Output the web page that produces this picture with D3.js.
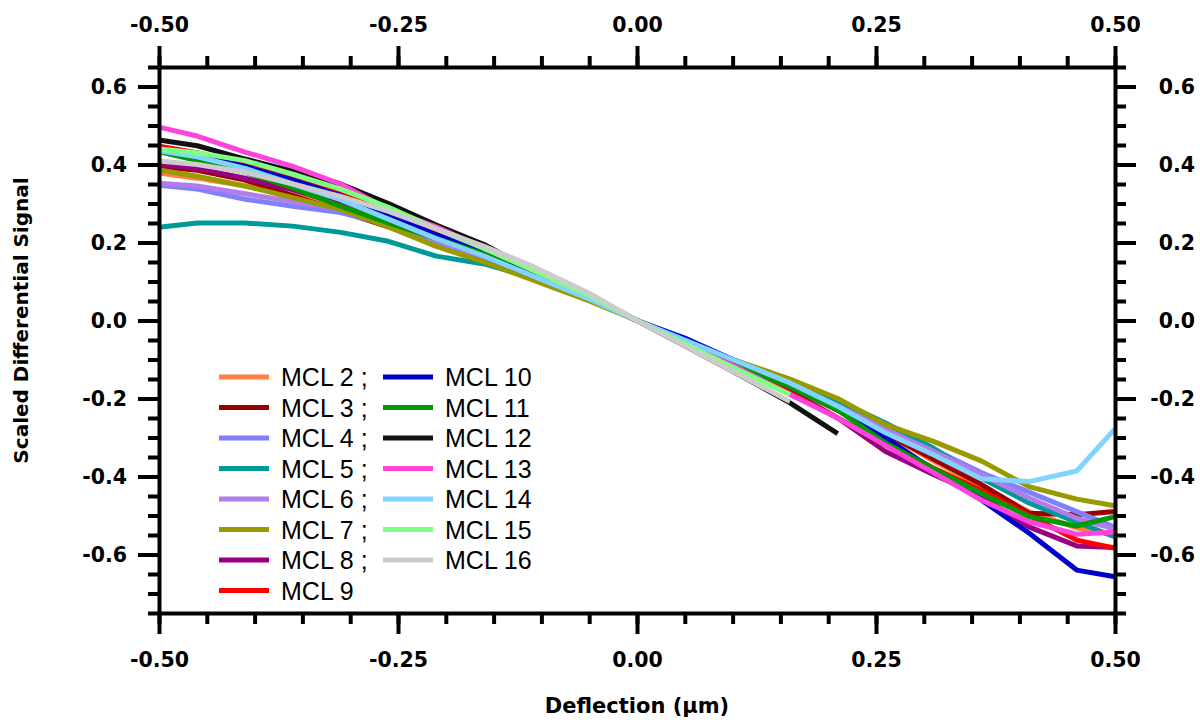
<!DOCTYPE html>
<html>
<head>
<meta charset="utf-8">
<script src="https://cdn.jsdelivr.net/npm/d3@7"></script>
<style>
  body { margin: 0; background: #fff; }
  text { font-family: Arial, "Liberation Sans", sans-serif; }
  .tick text { font-family: "DejaVu Sans", sans-serif; font-weight: bold; font-size: 20.5px; }
  .title { font-family: "DejaVu Sans", sans-serif; font-weight: bold; }
</style>
</head>
<body>
<div id="chart"></div>
<script>
const margin = { top: 67, right: 85, bottom: 109, left: 159 };
const W = 1200, H = 722;
const width = W - margin.left - margin.right;
const height = H - margin.top - margin.bottom;

// deflection positions (um)
const deflection = [-0.5, -0.46, -0.41, -0.36, -0.31, -0.26, -0.21, -0.16, -0.11, -0.05, 0,
                    0.05, 0.10, 0.16, 0.21, 0.26, 0.31, 0.36, 0.41, 0.46, 0.5];

const seriesNames = ["MCL 2", "MCL 3", "MCL 4", "MCL 5", "MCL 6", "MCL 7", "MCL 8", "MCL 9",
                     "MCL 10", "MCL 11", "MCL 12", "MCL 13", "MCL 14", "MCL 15", "MCL 16"];
const legendLabels = ["MCL 2 ;", "MCL 3 ;", "MCL 4 ;", "MCL 5 ;", "MCL 6 ;", "MCL 7 ;", "MCL 8 ;", "MCL 9",
                      "MCL 10", "MCL 11", "MCL 12", "MCL 13", "MCL 14", "MCL 15", "MCL 16"];
const colors = ["#ff8040", "#990000", "#8080ff", "#009999", "#b07ee6", "#999900", "#990080", "#ff0000",
                "#0000cc", "#009900", "#111111", "#ff44dd", "#80d4ff", "#80ff80", "#cccccc"];

// scaled differential signal per series
const mcl2  = [0.378, 0.365, 0.345, 0.322, 0.29, 0.245, 0.205, 0.16, 0.11, 0.055, 0, -0.055, -0.105, -0.165, -0.23, -0.29, -0.36, -0.425, -0.49, -0.532, -0.55];
const mcl3  = [0.395, 0.385, 0.36, 0.32, 0.28, 0.24, 0.2, 0.16, 0.11, 0.055, 0, -0.055, -0.105, -0.165, -0.23, -0.29, -0.355, -0.42, -0.494, -0.498, -0.49];
const mcl4  = [0.347, 0.337, 0.311, 0.293, 0.277, 0.245, 0.2, 0.16, 0.11, 0.055, 0, -0.05, -0.1, -0.16, -0.215, -0.275, -0.33, -0.39, -0.44, -0.49, -0.53];
const mcl5  = [0.239, 0.25, 0.25, 0.242, 0.226, 0.203, 0.165, 0.145, 0.11, 0.055, 0, -0.05, -0.1, -0.155, -0.205, -0.263, -0.327, -0.404, -0.468, -0.517, -0.555];
const mcl6  = [0.352, 0.345, 0.325, 0.305, 0.285, 0.25, 0.205, 0.16, 0.11, 0.055, 0, -0.05, -0.1, -0.16, -0.22, -0.28, -0.335, -0.395, -0.455, -0.507, -0.535];
const mcl7  = [0.386, 0.37, 0.345, 0.315, 0.285, 0.24, 0.19, 0.15, 0.105, 0.05, 0, -0.05, -0.1, -0.15, -0.2, -0.267, -0.31, -0.36, -0.426, -0.458, -0.475];
const mcl8  = [0.40, 0.39, 0.365, 0.335, 0.30, 0.26, 0.21, 0.165, 0.115, 0.06, 0, -0.06, -0.115, -0.18, -0.25, -0.336, -0.395, -0.45, -0.529, -0.578, -0.582];
const mcl9  = [0.447, 0.43, 0.40, 0.365, 0.33, 0.275, 0.225, 0.175, 0.12, 0.06, 0, -0.06, -0.115, -0.185, -0.25, -0.315, -0.378, -0.435, -0.50, -0.563, -0.584];
const mcl10 = [0.44, 0.425, 0.395, 0.36, 0.32, 0.27, 0.22, 0.175, 0.12, 0.06, 0, -0.045, -0.1, -0.17, -0.23, -0.30, -0.383, -0.46, -0.545, -0.64, -0.657];
const mcl11 = [0.433, 0.41, 0.38, 0.34, 0.293, 0.25, 0.21, 0.17, 0.115, 0.06, 0, -0.055, -0.11, -0.17, -0.23, -0.314, -0.38, -0.443, -0.503, -0.527, -0.503];
const mcl12 = [0.463, 0.448, 0.414, 0.383, 0.35, 0.3, 0.245, 0.195, 0.13, 0.065, 0, -0.065, -0.13, -0.211, -0.29, null, null, null, null, null, null];
const mcl13 = [0.496, 0.473, 0.432, 0.395, 0.35, 0.285, 0.24, 0.185, 0.13, 0.065, 0, -0.06, -0.115, -0.19, -0.25, -0.32, -0.39, -0.46, -0.516, -0.548, -0.542];
const mcl14 = [0.435, 0.42, 0.39, 0.35, 0.31, 0.26, 0.21, 0.165, 0.115, 0.055, 0, -0.05, -0.1, -0.16, -0.22, -0.288, -0.344, -0.406, -0.413, -0.386, -0.278];
const mcl15 = [0.44, 0.43, 0.41, 0.375, 0.337, 0.29, 0.235, 0.185, 0.13, 0.065, 0, -0.06, -0.12, -0.19, null, null, null, null, null, null, null];
const mcl16 = [0.409, 0.40, 0.38, 0.35, 0.318, 0.28, 0.235, 0.19, 0.14, 0.07, 0, -0.065, -0.13, -0.208, null, null, null, null, null, null, null];

const allValues = [mcl2, mcl3, mcl4, mcl5, mcl6, mcl7, mcl8, mcl9, mcl10, mcl11, mcl12, mcl13, mcl14, mcl15, mcl16];

const xTicks = [-0.5, -0.25, 0, 0.25, 0.5];
const yTicks = [-0.6, -0.4, -0.2, 0, 0.2, 0.4, 0.6];

const svg = d3.select("#chart")
    .append("svg")
    .attr("width", W)
    .attr("height", H);

const g = svg.append("g")
    .attr("transform", `translate(${margin.left},${margin.top})`);

const x = d3.scaleLinear().domain([-0.5, 0.5]).range([0, width]);
const y = d3.scaleLinear().domain([-0.75, 0.65]).range([height, 0]);

const minorX = d3.range(-0.5, 0.5001, 0.05).map(d => +d.toFixed(2));
const minorY = d3.range(-0.75, 0.6501, 0.05).map(d => +d.toFixed(2));

// lines
const line = d3.line()
    .defined(d => d[1] != null)
    .x(d => x(d[0]))
    .y(d => y(d[1]));

allValues.forEach((vals, i) => {
    g.append("path")
        .datum(deflection.map((d, j) => [d, vals[j]]))
        .attr("fill", "none")
        .attr("stroke", colors[i])
        .attr("stroke-width", 5)
        .attr("stroke-linejoin", "round")
        .attr("d", line);
});

// axes: minor ticks without labels, then major with labels
function styleAxis(sel) {
    sel.select(".domain").attr("stroke-width", 4).attr("stroke", "#000");
    sel.selectAll(".tick line").attr("stroke-width", 4).attr("stroke", "#000");
    sel.selectAll(".tick text").attr("fill", "#000");
}

const axes = [
    { gen: d3.axisBottom, scale: x, minor: minorX, major: xTicks, tr: `translate(0,${height})`, fmt: d3.format(".2f"), pad: 18 },
    { gen: d3.axisTop, scale: x, minor: minorX, major: xTicks, tr: `translate(0,0)`, fmt: d3.format(".2f"), pad: 14 },
    { gen: d3.axisLeft, scale: y, minor: minorY, major: yTicks, tr: `translate(0,0)`, fmt: d3.format(".1f"), pad: 11 },
    { gen: d3.axisRight, scale: y, minor: minorY, major: yTicks, tr: `translate(${width},0)`, fmt: d3.format(".1f"), pad: 21, rightAlign: 80 }
];

axes.forEach(a => {
    g.append("g")
        .attr("transform", a.tr)
        .call(a.gen(a.scale).tickValues(a.minor).tickSize(11).tickSizeOuter(0).tickFormat(""))
        .call(styleAxis);
    const ax = g.append("g")
        .attr("transform", a.tr)
        .call(a.gen(a.scale).tickValues(a.major).tickSize(21).tickSizeOuter(0).tickPadding(a.pad).tickFormat(d => a.fmt(d).replace("−", "-")))
        .call(styleAxis)
        .call(s => s.select(".domain").remove());
    if (a.rightAlign) {
        // right-hand labels are right-aligned in the reference
        ax.selectAll(".tick text").attr("x", a.rightAlign).attr("text-anchor", "end");
    }
});

// axis titles
svg.append("text")
    .attr("class", "title")
    .attr("x", margin.left + width / 2)
    .attr("y", 713)
    .attr("text-anchor", "middle")
    .style("font-size", "21px")
    .text("Deflection (\u03bcm)");

svg.append("text")
    .attr("class", "title")
    .attr("transform", `translate(28,${y(0) + margin.top}) rotate(-90)`)
    .attr("text-anchor", "middle")
    .style("font-size", "20px")
    .text("Scaled Differential Signal");

// legend
const legend = svg.append("g").attr("class", "legend");
legendLabels.forEach((lab, i) => {
    const col = i < 8 ? 0 : 1;
    const row = i < 8 ? i : i - 8;
    const lx = col === 0 ? 219 : 383;
    const ly = 377 + row * 30.5;
    legend.append("line")
        .attr("x1", lx).attr("x2", lx + 50)
        .attr("y1", ly).attr("y2", ly)
        .attr("stroke", colors[i])
        .attr("stroke-width", 5);
    legend.append("text")
        .attr("x", lx + 62)
        .attr("y", ly + 9)
        .style("font-size", "25px")
        .text(lab);
});
</script>
</body>
</html>
